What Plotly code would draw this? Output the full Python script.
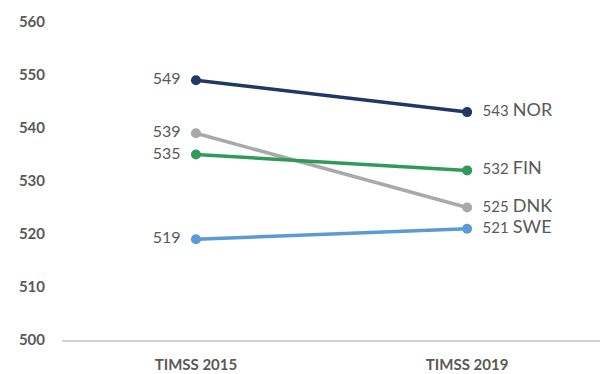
import plotly.graph_objects as go

categories = ["TIMSS 2015", "TIMSS 2019"]
countries = ["NOR", "FIN", "DNK", "SWE"]
nor = [549, 543]
fin = [535, 532]
dnk = [539, 525]
swe = [519, 521]
colors = {"NOR": "#1f3864", "FIN": "#2e9b5b", "DNK": "#a9a9a9", "SWE": "#5b9bd5"}
y_ticks = [500, 510, 520, 530, 540, 550, 560]

series = {"NOR": nor, "FIN": fin, "DNK": dnk, "SWE": swe}
FONT = "Lato, Liberation Sans, sans-serif"
fig = go.Figure()
for name in ["DNK", "SWE", "FIN", "NOR"]:
    vals = series[name]
    texts = [f"{vals[0]}&nbsp;&nbsp;",
             f"&nbsp;&nbsp;<span style='font-size:15px'>{vals[1]}</span> "
             f"<span style='font-size:18px'>{name}</span>"]
    fig.add_trace(go.Scatter(
        x=[0, 1], y=vals, mode="lines+markers+text",
        line=dict(color=colors[name], width=3.5),
        marker=dict(color=colors[name], size=10),
        text=texts, textposition=["middle left", "middle right"],
        textfont=dict(family=FONT, size=16, color="#595959"),
        showlegend=False, cliponaxis=False, name=name,
    ))

fig.update_layout(
    width=603, height=374,
    margin=dict(l=62, r=3, t=22, b=34),
    plot_bgcolor="white", paper_bgcolor="white",
    font=dict(family=FONT, color="#595959"),
)
fig.update_xaxes(
    range=[-0.494, 1.49], tickvals=[0, 1], ticktext=categories,
    showgrid=False, zeroline=False, showline=True, automargin=False,
    linecolor="#d0d0d0", linewidth=1.5,
    tickfont=dict(family=FONT, size=15, color="#595959", weight="bold"),
    ticks="", ticklabelstandoff=10,
)
fig.update_yaxes(
    range=[500, 560], tickvals=y_ticks, showgrid=False, zeroline=False,
    showline=False, ticks="", automargin=False,
    tickfont=dict(family=FONT, size=15, color="#595959", weight="bold"),
    ticklabelstandoff=16,
)
fig.write_html("out.html")
